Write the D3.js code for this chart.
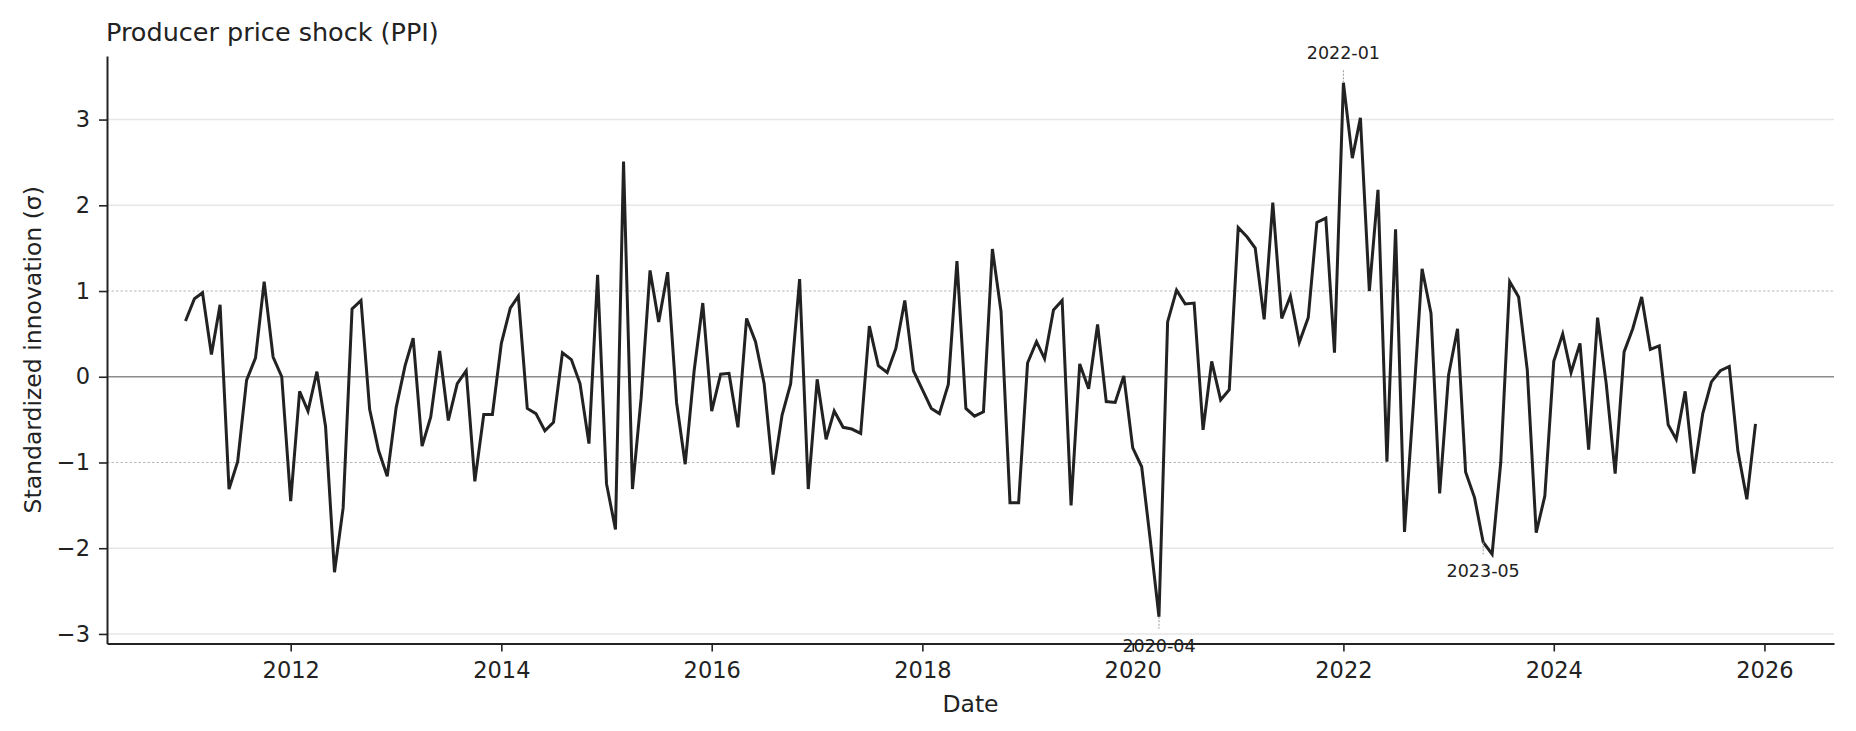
<!DOCTYPE html>
<html>
<head>
<meta charset="utf-8">
<script src="https://cdn.jsdelivr.net/npm/d3@7/dist/d3.min.js"></script>
<style>
  body { margin: 0; background: #fff; }
  text { font-family: "DejaVu Sans", sans-serif; }
</style>
</head>
<body>
<script>
// monthly standardized PPI innovations, 2011-01 .. 2025-12
var startYear = 2011;
var values = [
   0.65,  0.91,  0.98,  0.26,  0.84, -1.31, -0.99, -0.04,  0.22,  1.11,  0.23,  0.00,  // 2011
  -1.45, -0.17, -0.40,  0.06, -0.58, -2.28, -1.53,  0.79,  0.89, -0.38, -0.86, -1.16,  // 2012
  -0.36,  0.13,  0.45, -0.81, -0.47,  0.30, -0.51, -0.08,  0.07, -1.22, -0.44, -0.44,  // 2013
   0.39,  0.80,  0.94, -0.37, -0.43, -0.63, -0.53,  0.28,  0.20, -0.08, -0.78,  1.19,  // 2014
  -1.25, -1.78,  2.51, -1.31, -0.25,  1.24,  0.64,  1.22, -0.30, -1.02,  0.07,  0.86,  // 2015
  -0.40,  0.03,  0.04, -0.59,  0.68,  0.41, -0.08, -1.14, -0.45, -0.08,  1.14, -1.31,  // 2016
  -0.03, -0.73, -0.40, -0.59, -0.61, -0.66,  0.59,  0.13,  0.05,  0.33,  0.89,  0.07,  // 2017
  -0.15, -0.37, -0.43, -0.09,  1.35, -0.37, -0.46, -0.41,  1.49,  0.76, -1.47, -1.47,  // 2018
   0.16,  0.41,  0.21,  0.78,  0.89, -1.50,  0.15, -0.14,  0.61, -0.29, -0.30,  0.01,  // 2019
  -0.83, -1.05, -1.88, -2.80,  0.64,  1.01,  0.85,  0.86, -0.62,  0.18, -0.27, -0.15,  // 2020
   1.74,  1.63,  1.50,  0.67,  2.03,  0.68,  0.94,  0.40,  0.69,  1.80,  1.85,  0.28,  // 2021
   3.43,  2.55,  3.02,  1.00,  2.18, -0.99,  1.72, -1.81, -0.31,  1.26,  0.74, -1.36,  // 2022
   0.02,  0.56, -1.11, -1.41, -1.93, -2.07, -1.00,  1.11,  0.93,  0.08, -1.82, -1.39,  // 2023
   0.18,  0.50,  0.05,  0.39, -0.85,  0.69, -0.08, -1.13,  0.29,  0.56,  0.93,  0.32,  // 2024
   0.36, -0.56, -0.73, -0.17, -1.13, -0.43, -0.06,  0.07,  0.12, -0.87, -1.43, -0.55   // 2025
];
var yTicks = [-3, -2, -1, 0, 1, 2, 3];
var xTickYears = [2012, 2014, 2016, 2018, 2020, 2022, 2024, 2026];
var annotations = ["2022-01", "2020-04", "2023-05"];
var annotationSide = ["above", "below", "below"];

var dataset = values.map(function(v, i) {
  return { date: new Date(startYear, i, 1), value: v };
});

var w = 1856,
    h = 731,
    plotLeft = 107,
    plotRight = 1834,
    plotTop = 56,
    plotBottom = 643.5;

// matplotlib-style 5% margins around the data
var d0 = dataset[0].date.getTime(),
    d1 = dataset[dataset.length - 1].date.getTime(),
    dPad = (d1 - d0) * 0.05;
var vMin = d3.min(values), vMax = d3.max(values),
    vPad = (vMax - vMin) * 0.05;

var xScale = d3.scaleTime()
  .domain([new Date(d0 - dPad), new Date(d1 + dPad)])
  .range([plotLeft, plotRight]);

var yScale = d3.scaleLinear()
  .domain([vMin - vPad, vMax + vPad])
  .range([plotBottom, plotTop]);

var svg = d3.select("body")
  .append("svg")
  .attr("width", w)
  .attr("height", h);

// horizontal reference lines
svg.append("g")
  .selectAll("line")
  .data(yTicks)
  .enter()
  .append("line")
  .attr("x1", plotLeft)
  .attr("x2", plotRight)
  .attr("y1", function(d) { return yScale(d); })
  .attr("y2", function(d) { return yScale(d); })
  .attr("stroke", function(d) {
    if (d === 0) return "#8c8c8c";
    if (Math.abs(d) === 1) return "#b8b8b8";
    return "#e6e6e6";
  })
  .attr("stroke-width", function(d) { return Math.abs(d) === 1 ? 1 : 1.6; })
  .attr("stroke-dasharray", function(d) { return Math.abs(d) === 1 ? "2.5,2" : null; });

var line = d3.line()
  .x(function(d) { return xScale(d.date); })
  .y(function(d) { return yScale(d.value); });

svg.append("path")
  .datum(dataset)
  .attr("fill", "none")
  .attr("stroke", "#222")
  .attr("stroke-width", 3)
  .attr("stroke-linejoin", "miter")
  .attr("d", line);

var xAxis = d3.axisBottom(xScale)
  .tickValues(xTickYears.map(function(y) { return new Date(y, 0, 1); }))
  .tickFormat(d3.timeFormat("%Y"))
  .tickSize(8)
  .tickSizeOuter(0)
  .tickPadding(11);

var yAxis = d3.axisLeft(yScale)
  .tickValues(yTicks)
  .tickFormat(d3.format("d"))
  .tickSize(8)
  .tickSizeOuter(0)
  .tickPadding(9);

var gx = svg.append("g")
  .attr("transform", "translate(0," + plotBottom + ")")
  .call(xAxis);

var gy = svg.append("g")
  .attr("transform", "translate(" + plotLeft + ",0)")
  .call(yAxis);

[gx, gy].forEach(function(g) {
  g.select(".domain").attr("stroke", "#222").attr("stroke-width", 2);
  g.selectAll(".tick line").attr("stroke", "#222").attr("stroke-width", 1.6);
  g.selectAll(".tick text")
    .attr("fill", "#222")
    .style("font-size", "22.5px")
    .style("font-family", "DejaVu Sans");
});

// title and axis labels
svg.append("text")
  .attr("x", 106)
  .attr("y", 41)
  .attr("fill", "#222")
  .style("font-size", "25.5px")
  .text("Producer price shock (PPI)");

svg.append("text")
  .attr("x", (plotLeft + plotRight) / 2)
  .attr("y", 712)
  .attr("text-anchor", "middle")
  .attr("fill", "#222")
  .style("font-size", "23.5px")
  .text("Date");

svg.append("text")
  .attr("transform", "translate(41," + ((plotTop + plotBottom) / 2) + ") rotate(-90)")
  .attr("text-anchor", "middle")
  .attr("fill", "#222")
  .style("font-size", "23.5px")
  .text("Standardized innovation (σ)");

// annotated months
var parseMonth = d3.timeParse("%Y-%m");
var notes = annotations.map(function(a, i) {
  var dt = parseMonth(a);
  var idx = (dt.getFullYear() - startYear) * 12 + dt.getMonth();
  return { label: a, date: dt, value: values[idx], side: annotationSide[i] };
});

var gn = svg.append("g");

gn.selectAll("line")
  .data(notes)
  .enter()
  .append("line")
  .attr("x1", function(d) { return xScale(d.date); })
  .attr("x2", function(d) { return xScale(d.date); })
  .attr("y1", function(d) { return yScale(d.value); })
  .attr("y2", function(d) { return yScale(d.value) + (d.side === "above" ? -13 : 12); })
  .attr("stroke", "#a0a0a0")
  .attr("stroke-width", 1.1)
  .attr("stroke-dasharray", "2,1.5");

gn.selectAll("text")
  .data(notes)
  .enter()
  .append("text")
  .attr("x", function(d) { return xScale(d.date); })
  .attr("y", function(d) { return yScale(d.value) + (d.side === "above" ? -24 : 35); })
  .attr("text-anchor", "middle")
  .attr("fill", "#222")
  .style("font-size", "17.5px")
  .text(function(d) { return d.label; });
</script>
</body>
</html>
